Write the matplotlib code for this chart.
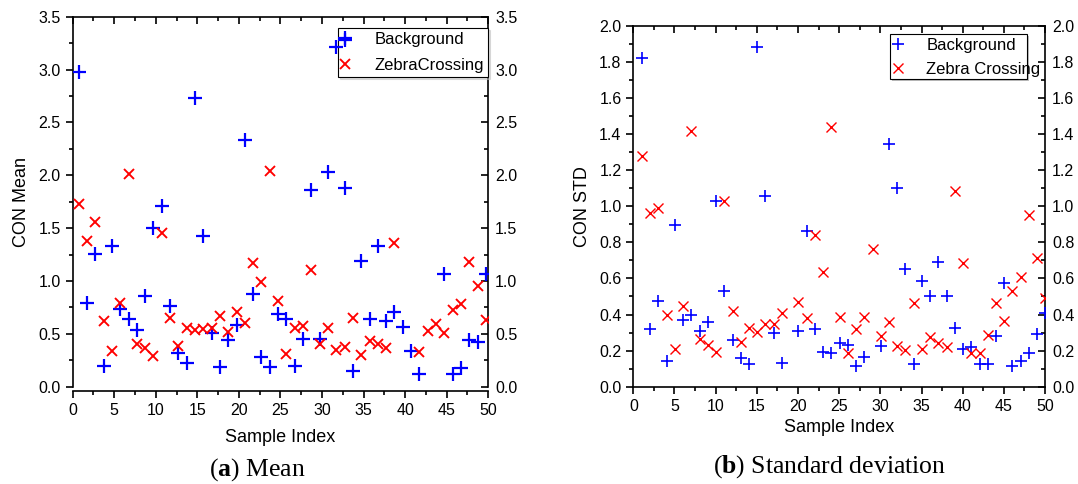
import matplotlib.pyplot as plt
from matplotlib.patches import Rectangle
from matplotlib.ticker import MultipleLocator

# CON mean per sample
mean_bg_idx = [1, 2, 3, 4, 5, 6, 7, 8, 9, 10, 11, 12, 13, 14, 15, 16, 17, 18, 19, 20,
               21, 22, 23, 24, 25, 26, 27, 28, 29, 30, 31, 32, 33, 33, 34, 35, 36, 37, 38, 39,
               40, 41, 42, 45, 46, 47, 48, 49, 50]
mean_bg = [2.98, 0.795, 1.26, 0.20, 1.33, 0.735, 0.64, 0.536, 0.86, 1.50,
           1.71, 0.763, 0.315, 0.22, 2.73, 1.426, 0.505, 0.19, 0.44, 0.58,
           2.33, 0.88, 0.28, 0.19, 0.69, 0.637, 0.20, 0.45, 1.86, 0.45,
           2.03, 3.21, 3.28, 1.88, 0.15, 1.19, 0.637, 1.334, 0.625, 0.71,
           0.568, 0.338, 0.12, 1.066, 0.12, 0.18, 0.44, 0.426, 1.066]
mean_zc_idx = [1, 2, 3, 4, 5, 6, 7, 8, 9, 10, 11, 12, 13, 14, 15, 16, 17, 18, 19, 20,
               21, 22, 23, 24, 25, 26, 27, 28, 29, 30, 31, 32, 33, 34, 35, 36, 37, 38, 39,
               42, 43, 44, 45, 46, 47, 48, 49, 50]
mean_zc = [1.73, 1.38, 1.555, 0.62, 0.338, 0.79, 2.01, 0.404, 0.363, 0.29,
           1.45, 0.653, 0.388, 0.552, 0.536, 0.546, 0.552, 0.669, 0.52, 0.71,
           0.60, 1.167, 0.994, 2.044, 0.814, 0.309, 0.558, 0.577, 1.104, 0.40,
           0.552, 0.347, 0.378, 0.653, 0.30, 0.435, 0.40, 0.37, 1.356,
           0.325, 0.527, 0.59, 0.505, 0.726, 0.78, 1.18, 0.956, 0.63]

# CON standard deviation per sample
std_bg_idx = [1, 2, 3, 4, 5, 6, 7, 8, 9, 10, 11, 12, 13, 14, 15, 16, 17, 18, 20,
              21, 22, 23, 24, 25, 26, 27, 28, 30, 31, 32, 33, 34, 35, 36, 37, 38, 39,
              40, 41, 42, 43, 44, 45, 46, 47, 48, 49, 50]
std_bg = [1.823, 0.318, 0.476, 0.142, 0.896, 0.369, 0.397, 0.31, 0.36, 1.03,
          0.53, 0.258, 0.16, 0.124, 1.88, 1.058, 0.30, 0.13, 0.31,
          0.864, 0.318, 0.194, 0.185, 0.24, 0.231, 0.114, 0.163, 0.227,
          1.344, 1.102, 0.65, 0.126, 0.587, 0.504, 0.689, 0.504, 0.323, 0.207,
          0.218, 0.126, 0.126, 0.28, 0.576, 0.114, 0.144, 0.185, 0.29, 0.41]
std_zc_idx = [1, 2, 3, 4, 5, 6, 7, 8, 9, 10, 11, 12, 13, 14, 15, 16, 17, 18, 20,
              21, 22, 23, 24, 25, 26, 27, 28, 29, 30, 31, 32, 33, 34, 35, 36, 37, 38, 39,
              40, 41, 42, 43, 44, 45, 46, 47, 48, 49, 50]
std_zc = [1.28, 0.964, 0.992, 0.397, 0.207, 0.447, 1.418, 0.262, 0.231, 0.19,
          1.029, 0.421, 0.246, 0.323, 0.305, 0.347, 0.347, 0.41, 0.467,
          0.379, 0.84, 0.633, 1.437, 0.384, 0.185, 0.32, 0.384, 0.761, 0.283,
          0.356, 0.225, 0.203, 0.462, 0.207, 0.273, 0.24, 0.222, 1.084, 0.683,
          0.185, 0.185, 0.286, 0.462, 0.366, 0.532, 0.609, 0.951, 0.711, 0.489]

plt.rcParams['font.family'] = 'Liberation Sans'
plt.rcParams['mathtext.fontset'] = 'custom'
plt.rcParams['mathtext.rm'] = 'Liberation Serif'
plt.rcParams['mathtext.bf'] = 'Liberation Serif:bold'


def style_axes(ax, ymax, ymajor, yminor, bottom_gap):
    ax.set_xlim(0, 50)
    ax.set_ylim(0, ymax)
    ax.xaxis.set_major_locator(MultipleLocator(5))
    ax.xaxis.set_minor_locator(MultipleLocator(2.5))
    ax.yaxis.set_major_locator(MultipleLocator(ymajor))
    ax.yaxis.set_minor_locator(MultipleLocator(yminor))
    ax.tick_params(which='both', direction='out', labelsize=11.5, width=1.2)
    ax.tick_params(which='major', length=5)
    ax.tick_params(which='minor', length=3)
    for s in ax.spines.values():
        s.set_linewidth(1.2)
    if bottom_gap:
        ax.spines['bottom'].set_position(('outward', bottom_gap))

    # inward ticks on the top and right, labels mirrored on the right
    top = ax.secondary_xaxis('top')
    top.xaxis.set_major_locator(MultipleLocator(5))
    top.xaxis.set_minor_locator(MultipleLocator(2.5))
    top.tick_params(which='both', direction='in', labeltop=False, width=1.2)
    top.tick_params(which='major', length=5)
    top.tick_params(which='minor', length=3)
    top.spines['top'].set_linewidth(1.2)

    right = ax.secondary_yaxis('right')
    right.yaxis.set_major_locator(MultipleLocator(ymajor))
    right.yaxis.set_minor_locator(MultipleLocator(yminor))
    right.tick_params(which='both', direction='in', labelsize=11.5, width=1.2, pad=5)
    right.tick_params(which='major', length=5)
    right.tick_params(which='minor', length=3)
    right.spines['right'].set_linewidth(1.2)
    ax.spines['top'].set_visible(False)
    ax.spines['right'].set_visible(False)

    for a in (ax.xaxis, ax.yaxis, top.xaxis, top.yaxis, right.xaxis, right.yaxis):
        a.offsetText.set_visible(False)


def plot_panel(ax, bg_idx, bg, zc_idx, zc, shift, ms_plus, ms_x, mew, zc_label):
    ax.plot([i + shift for i in bg_idx], bg, linestyle='none', marker='+',
            markersize=ms_plus, markeredgewidth=mew, color='#0000ff', label='Background',
            zorder=6)
    ax.plot([i + shift for i in zc_idx], zc, linestyle='none', marker='x',
            markersize=ms_x, markeredgewidth=mew * 0.85, color='#ff0000', label=zc_label,
            zorder=6)


fig = plt.figure(figsize=(10.78, 4.84), dpi=100)

ax1 = fig.add_axes([0.0674, 0.201, 0.3855, 0.7645])
plot_panel(ax1, mean_bg_idx, mean_bg, mean_zc_idx, mean_zc, -0.28, 10, 7.5, 1.6, 'ZebraCrossing')
style_axes(ax1, 3.5, 0.5, 0.25, 3)
ax1.set_xlabel('Sample Index', fontsize=13, labelpad=8)
ax1.set_ylabel('CON Mean', fontsize=13, labelpad=6)
leg1 = ax1.legend(loc='upper right', bbox_to_anchor=(1.0, 0.97), borderaxespad=0,
                  fontsize=12, handlelength=0.3, handletextpad=1.6, borderpad=0.27,
                  labelspacing=0.62, fancybox=False, edgecolor='black', framealpha=1,
                  shadow={'ox': 1.5, 'oy': -1.5, 'color': '0.75'})
leg1.get_frame().set_linewidth(0.8)
leg1.set_zorder(3)

ax2 = fig.add_axes([0.5875, 0.201, 0.3819, 0.7459])
plot_panel(ax2, std_bg_idx, std_bg, std_zc_idx, std_zc, 0.05, 9, 6.5, 1.2, 'Zebra Crossing')
style_axes(ax2, 2.0, 0.2, 0.1, 0)
ax2.set_xlabel('Sample Index', fontsize=13, labelpad=4)
ax2.set_ylabel('CON STD', fontsize=13, labelpad=6)
# the text of this legend runs past its box in the original, so the box is drawn by hand
box_x0, box_y0, box_w, box_h = 0.6235, 0.852, 0.3335, 0.124
ax2.add_patch(Rectangle((box_x0 + 0.004, box_y0 - 0.005), box_w, box_h, transform=ax2.transAxes,
                        facecolor='0.75', edgecolor='none', zorder=4, clip_on=False))
ax2.add_patch(Rectangle((box_x0, box_y0), box_w, box_h, transform=ax2.transAxes,
                        facecolor='white', edgecolor='black', linewidth=0.8, zorder=4,
                        clip_on=False))
leg2 = ax2.legend(loc='upper left', bbox_to_anchor=(box_x0, box_y0 + box_h), borderaxespad=0,
                  fontsize=12, handlelength=0.5, handletextpad=1.45, borderpad=0.22,
                  labelspacing=0.55, frameon=False)
leg2.set_zorder(5)

# sub-figure captions
fig.text(0.239, 0.029, r'($\mathbf{a}$) Mean', ha='center', va='center',
         fontsize=18.5, family='Liberation Serif')
fig.text(0.770, 0.035, r'($\mathbf{b}$) Standard deviation', ha='center', va='center',
         fontsize=18.5, family='Liberation Serif')

fig.savefig('out.png', dpi=100)
